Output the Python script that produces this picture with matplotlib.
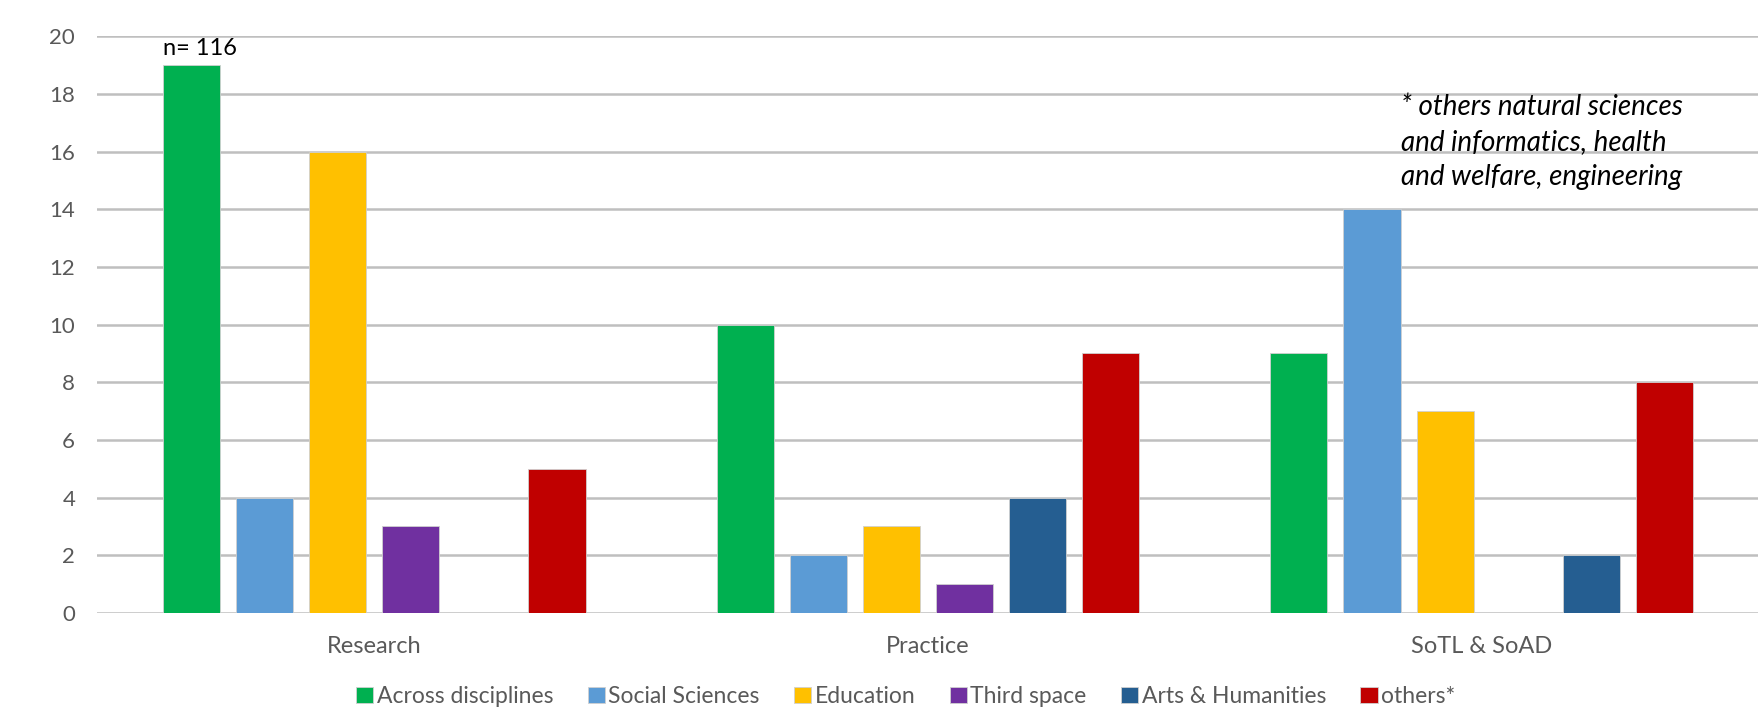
import matplotlib
matplotlib.use("Agg")
from matplotlib import pyplot as plt
import numpy as np

categories = ["Research", "Practice", "SoTL & SoAD"]
series = ["Across disciplines", "Social Sciences", "Education",
          "Third space", "Arts & Humanities", "others*"]
values = [
    [19, 10, 9],   # Across disciplines
    [4, 2, 14],    # Social Sciences
    [16, 3, 7],    # Education
    [3, 1, 0],     # Third space
    [0, 4, 2],     # Arts & Humanities
    [5, 9, 8],     # others*
]
colors = ["#00B050", "#5B9BD5", "#FFC000", "#7030A0", "#255E91", "#C00000"]
yticks = [0, 2, 4, 6, 8, 10, 12, 14, 16, 18, 20]

plt.rcParams['font.family'] = ['Lato', 'DejaVu Sans']

fig = plt.figure(figsize=(17.62, 7.11), dpi=100)
ax = fig.add_axes([0.0553, 0.138, 0.9427, 0.811])

x = np.arange(len(categories))
step = 0.132
width = 0.103
for i, (name, vals) in enumerate(zip(series, values)):
    ax.bar(x + (i - 2.5) * step, vals, width, color=colors[i], label=name,
           edgecolor="#D0D0D0", linewidth=0.6, zorder=3)

ax.set_xlim(-0.5, 2.5)
ax.set_ylim(0, 20)
ax.set_yticks(yticks)
ax.yaxis.grid(True, color="#BFBFBF", linewidth=1.8, zorder=0)
ax.set_axisbelow(True)
for s in ax.spines.values():
    s.set_visible(False)
ax.tick_params(axis="y", length=0, labelsize=16, labelcolor="#595959", pad=16)
ax.tick_params(axis="x", length=0, labelsize=17, labelcolor="#595959", pad=17)
ax.set_xticks(x)
ax.set_xticklabels(categories)

ax.text(x[0] - 2.5 * step - width / 2, 19.2, "n= 116", fontsize=17,
        color="black", ha="left", va="bottom")
ax.text(0.785, 0.9, "* others natural sciences\nand informatics, health\nand welfare, engineering",
        transform=ax.transAxes, fontsize=20, style="italic", color="black",
        ha="left", va="top", linespacing=1.42)

leg = fig.legend(loc="center", bbox_to_anchor=(0.514, 0.021), ncol=6,
                 frameon=False, fontsize=16.5, handlelength=0.75, handleheight=0.7,
                 handletextpad=0.15, columnspacing=1.5)
for t in leg.get_texts():
    t.set_color("#595959")

fig.savefig("out.png", dpi=100)
